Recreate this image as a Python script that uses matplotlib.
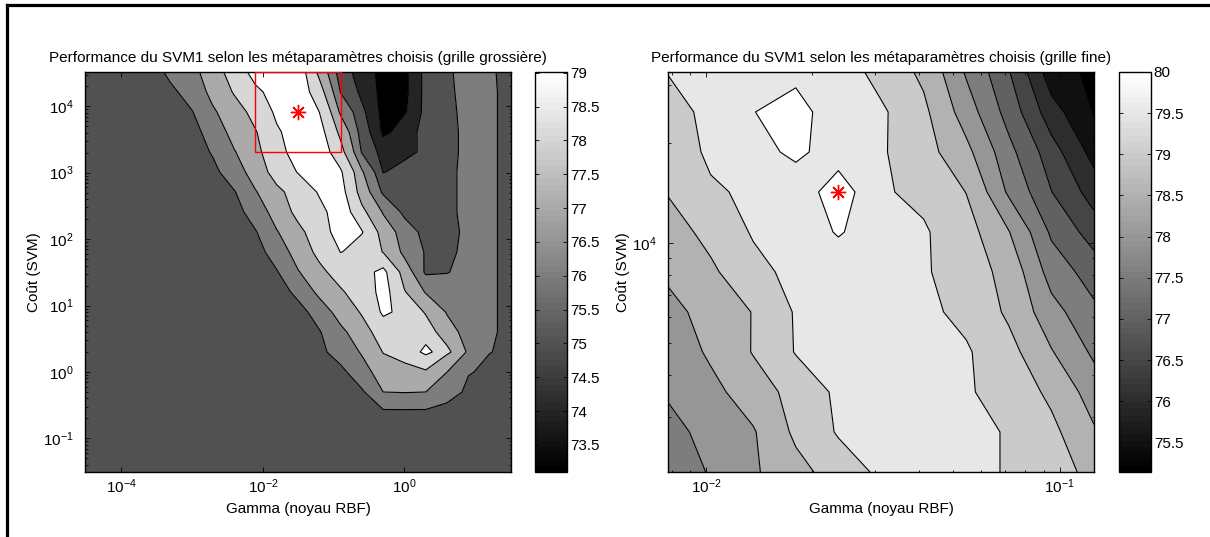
import numpy as np
import matplotlib
matplotlib.use("Agg")
import matplotlib.pyplot as plt
from matplotlib.colors import Normalize
from matplotlib.cm import ScalarMappable
from matplotlib.lines import Line2D
from matplotlib.patches import Rectangle
from matplotlib.ticker import (FixedLocator, LogLocator, NullLocator,
                               NullFormatter, LogFormatterSciNotation,
                               FormatStrFormatter)

plt.rcParams['font.family'] = ['Liberation Sans', 'DejaVu Sans']
plt.rcParams['mathtext.fontset'] = 'custom'
plt.rcParams['mathtext.rm'] = 'Liberation Sans'
plt.rcParams['axes.unicode_minus'] = False
plt.rcParams['font.size'] = 11

# coarse grid search (log2 of the meta-parameters)
log2_gamma_coarse = [-15, -14, -13, -12, -11, -10, -9, -8, -7, -6, -5,
                     -4, -3, -2, -1, 0, 1, 2, 3, 4, 5]
log2_cost_coarse = [-5, -4, -3, -2, -1, 0, 1, 2, 3, 4, 5,
                    6, 7, 8, 9, 10, 11, 12, 13, 14, 15]
# accuracy (%), one row per cost value (bottom -> top), one column per gamma
acc_coarse = [
    [75, 75, 75, 75, 75, 75, 75, 75, 75, 75, 75, 75, 75, 75, 75, 75, 75, 75, 75, 75, 75],
    [75, 75, 75, 75, 75, 75, 75, 75, 75, 75, 75, 75, 75, 75, 75, 75, 75, 75, 75, 75, 75],
    [75, 75, 75, 75, 75, 75, 75, 75, 75, 75, 75, 75, 75, 75, 75, 75, 75, 75, 75, 75, 75],
    [75, 75, 75, 75, 75, 75, 75, 75, 75, 75, 75, 75, 75, 75, 75.4, 75.4, 75.4, 75.2, 75, 75, 75],
    [75, 75, 75, 75, 75, 75, 75, 75, 75, 75, 75, 75, 75, 75.4, 76.5, 76.55, 76.5, 76.0, 75.2, 75, 75],
    [75, 75, 75, 75, 75, 75, 75, 75, 75, 75, 75, 75, 75.3, 76.2, 77.0, 77.2, 77.4, 76.5, 75.6, 75.1, 75],
    [75, 75, 75, 75, 75, 75, 75, 75, 75, 75, 75, 75.3, 76.0, 76.6, 77.55, 78.0, 78.75, 77.7, 76.3, 75.55, 75],
    [75, 75, 75, 75, 75, 75, 75, 75, 75, 75, 75, 75.45, 76.3, 77.2, 78.0, 78.1, 77.9, 76.9, 76.0, 75.7, 75],
    [75, 75, 75, 75, 75, 75, 75, 75, 75, 75, 75.2, 76.0, 77.0, 77.6, 78.7, 78.1, 77.4, 76.4, 76.0, 75.7, 75],
    [75, 75, 75, 75, 75, 75, 75, 75, 75, 75.1, 75.8, 76.8, 77.4, 78.1, 78.8, 77.55, 76.4, 76.0, 76.0, 75.7, 75],
    [75, 75, 75, 75, 75, 75, 75, 75, 75, 75.45, 76.45, 77.3, 78.0, 78.3, 78.7, 77.0, 75.3, 75.45, 76.0, 75.7, 75],
    [75, 75, 75, 75, 75, 75, 75, 75, 75.2, 76.0, 77.0, 77.8, 78.52, 78.2, 77.45, 76.2, 75.4, 75.2, 76.0, 75.7, 75],
    [75, 75, 75, 75, 75, 75, 75, 75, 75.45, 76.45, 77.3, 78.1, 79.0, 78.55, 77.0, 76.0, 75.1, 75.0, 76.0, 75.7, 75],
    [75, 75, 75, 75, 75, 75, 75, 75.2, 76.0, 77.0, 77.8, 78.3, 79.0, 77.7, 76.4, 75.2, 75.0, 75.2, 76.0, 75.7, 75],
    [75, 75, 75, 75, 75, 75, 75, 75.45, 76.45, 77.3, 78.0, 78.6, 78.8, 77.0, 75.3, 75.0, 75.0, 75.2, 76.0, 75.7, 75],
    [75, 75, 75, 75, 75, 75, 75.3, 76.1, 77.0, 78.0, 78.55, 79.0, 78.6, 76.6, 74.45, 75.0, 75.0, 75.2, 76.0, 75.7, 75],
    [75, 75, 75, 75, 75, 75.1, 75.6, 76.45, 77.3, 78.2, 79.0, 79.0, 77.8, 75.4, 74.0, 74.0, 75.0, 75.1, 76.0, 75.7, 75],
    [75, 75, 75, 75, 75, 75.2, 76.0, 76.9, 77.45, 78.4, 79.0, 78.8, 77.2, 75.0, 73.3, 74.0, 75.0, 75.1, 76.0, 75.7, 75],
    [75, 75, 75, 75, 75, 75.45, 76.4, 77.1, 77.9, 78.7, 79.0, 78.5, 76.3, 74.7, 73.1, 73.4, 74.9, 75.2, 76.0, 75.7, 75],
    [75, 75, 75, 75, 75.3, 76.0, 76.8, 77.6, 78.3, 79.0, 79.0, 77.9, 75.45, 74.2, 73.1, 73.3, 74.9, 75.3, 76.0, 75.7, 75],
    [75, 75, 75, 75, 75.8, 76.2, 77.2, 77.9, 79.0, 79.0, 79.0, 77.2, 74.9, 74.0, 73.1, 73.3, 74.9, 75.36, 76.0, 75.65, 75],
]
best_coarse = (-5, 13)          # log2 gamma, log2 cost
zoom_box = (-7, -3, 11, 15)     # region refined in the fine grid
coarse_levels = [73.0, 73.5, 74.5, 75.5, 76.5, 77.5, 78.5, 79.1]
coarse_band_vals = [73.1, 74, 75, 76, 77, 78, 79.01]
coarse_range = (73.1, 79.01)
coarse_cticks = [73.5, 74, 74.5, 75, 75.5, 76, 76.5, 77, 77.5, 78, 78.5, 79]

# fine grid search
log2_gamma_fine = [-7, -6.6, -6.2, -5.8, -5.4, -5, -4.6, -4.2, -3.8, -3.4, -3]
log2_cost_fine = [11, 11.4, 11.8, 12.2, 12.6, 13, 13.4, 13.8, 14.2, 14.6, 15]
acc_fine = [
    [77.55, 77.78, 78.19, 78.59, 79.0, 79.35, 79.4, 79.35, 79.22, 78.95, 78.6],
    [77.6, 77.92, 78.21, 78.86, 79.3, 79.4, 79.4, 79.35, 79.22, 78.86, 78.3],
    [77.81, 78.12, 78.51, 78.94, 79.35, 79.4, 79.35, 79.3, 79.04, 78.64, 78.0],
    [77.95, 78.33, 78.78, 79.28, 79.4, 79.4, 79.35, 79.3, 78.9, 78.28, 77.65],
    [78.1, 78.45, 78.77, 79.3, 79.45, 79.4, 79.35, 79.12, 78.66, 77.92, 77.35],
    [78.35, 78.67, 79.11, 79.4, 79.45, 79.4, 79.3, 79.0, 78.57, 77.53, 77.0],
    [78.55, 78.9, 79.3, 79.45, 79.8, 79.4, 79.3, 78.93, 78.27, 77.16, 76.5],
    [78.78, 79.15, 79.4, 79.5, 80.0, 79.3, 79.13, 78.74, 77.66, 76.76, 76.0],
    [78.8, 79.4, 79.6, 79.85, 79.5, 79.3, 78.93, 78.38, 77.39, 76.45, 75.55],
    [79.05, 79.4, 79.74, 79.95, 79.4, 79.32, 78.85, 77.99, 77.04, 75.94, 75.22],
    [79.27, 79.45, 79.55, 79.6, 79.5, 79.07, 78.64, 77.69, 76.78, 75.44, 75.14],
]
best_fine = (-5.4, 13.8)
fine_levels = [75.0, 75.25, 75.75, 76.25, 76.75, 77.25, 77.75, 78.25,
               78.75, 79.25, 79.75, 80.1]
fine_band_vals = [75.14, 75.5, 76, 76.5, 77, 77.5, 78, 78.5, 79, 79.5, 80.0]
fine_range = (75.14, 80.0)
fine_cticks = [75.5, 76, 76.5, 77, 77.5, 78, 78.5, 79, 79.5, 80]

title_coarse = "Performance du SVM1 selon les métaparamètres choisis (grille grossière)"
title_fine = "Performance du SVM1 selon les métaparamètres choisis (grille fine)"

W, H = 1210, 537
fig = plt.figure(figsize=(W / 100, H / 100), dpi=100)


def px_axes(x0, y0, x1, y1):
    return fig.add_axes([x0 / W, 1 - y1 / H, (x1 - x0) / W, (y1 - y0) / H])


def panel(ax, cax, lg, lc, z, levels, band_vals, crange, cticks, star):
    g = 2.0 ** np.array(lg)
    c = 2.0 ** np.array(lc)
    G, C = np.meshgrid(g, c)
    Z = np.array(z)
    norm = Normalize(*crange)
    cmap = plt.get_cmap('gray', 64)
    colors = [cmap(norm(v)) for v in band_vals]
    ax.contourf(G, C, Z, levels=levels, colors=colors)
    ax.contour(G, C, Z, levels=levels[1:-1], colors='k', linewidths=0.8)
    ax.set_xscale('log')
    ax.set_yscale('log')
    ax.set_xlim(g[0], g[-1])
    ax.set_ylim(c[0], c[-1])
    ax.plot(2.0 ** star[0], 2.0 ** star[1], ls='none', marker=(8, 2, 0),
            ms=11, mew=1.0, color='red', zorder=5)
    ax.tick_params(which='both', direction='in', top=True, right=True,
                   width=0.6, labelsize=11)
    ax.tick_params(which='major', length=3.5)
    ax.tick_params(which='minor', length=1.8)
    ax.tick_params(axis='y', pad=8)
    ax.tick_params(axis='x', pad=4)
    for s in ax.spines.values():
        s.set_linewidth(1.0)
    ax.set_xlabel("Gamma (noyau RBF)", fontsize=11)
    ax.set_ylabel("Coût (SVM)", fontsize=11)

    sm = ScalarMappable(norm=norm, cmap=cmap)
    cb = fig.colorbar(sm, cax=cax)
    cb.set_ticks(cticks)
    cb.ax.yaxis.set_major_formatter(FormatStrFormatter('%g'))
    cb.ax.tick_params(direction='in', left=True, right=True, length=3,
                      width=0.6, labelsize=11, pad=2)
    cb.outline.set_linewidth(1.0)


ax1 = px_axes(85, 72, 511, 472)
cax1 = px_axes(535, 72, 567, 472)
panel(ax1, cax1, log2_gamma_coarse, log2_cost_coarse, acc_coarse,
      coarse_levels, coarse_band_vals, coarse_range, coarse_cticks, best_coarse)
ax1.xaxis.set_major_locator(FixedLocator([1e-4, 1e-2, 1e0]))
ax1.xaxis.set_minor_locator(NullLocator())
ax1.xaxis.set_major_formatter(LogFormatterSciNotation())
ax1.yaxis.set_major_locator(LogLocator(base=10, numticks=30))
ax1.yaxis.set_minor_locator(LogLocator(base=10, subs=range(2, 10), numticks=60))
ax1.yaxis.set_minor_formatter(NullFormatter())
gx0, gx1, cy0, cy1 = [2.0 ** v for v in zoom_box]
ax1.add_patch(Rectangle((gx0, cy0), gx1 - gx0, cy1 - cy0, fill=False,
                        ec='red', lw=1.0, zorder=4))
ax1.set_title(title_coarse, fontsize=11, pad=7)
ax1.xaxis.set_label_coords(0.5, -0.075)
ax1.yaxis.set_label_coords(-0.103, 0.5)

ax2 = px_axes(668, 72, 1094, 472)
cax2 = px_axes(1119, 72, 1151, 472)
panel(ax2, cax2, log2_gamma_fine, log2_cost_fine, acc_fine,
      fine_levels, fine_band_vals, fine_range, fine_cticks, best_fine)
ax2.xaxis.set_major_locator(FixedLocator([1e-2, 1e-1]))
ax2.xaxis.set_minor_locator(LogLocator(base=10, subs=range(2, 10), numticks=60))
ax2.xaxis.set_major_formatter(LogFormatterSciNotation())
ax2.xaxis.set_minor_formatter(NullFormatter())
ax2.yaxis.set_major_locator(FixedLocator([1e4]))
ax2.yaxis.set_major_formatter(LogFormatterSciNotation())
ax2.yaxis.set_minor_locator(LogLocator(base=10, subs=range(2, 10), numticks=60))
ax2.yaxis.set_minor_formatter(NullFormatter())
ax2.set_title(title_fine, fontsize=11, pad=7)
ax2.xaxis.set_label_coords(0.5, -0.075)
ax2.yaxis.set_label_coords(-0.089, 0.5)

# frame around the figure (top and left edges are visible)
fig.add_artist(Line2D([7 / W, 7 / W], [0, 1 - 4.5 / H], transform=fig.transFigure,
                      color='k', lw=2.3))
fig.add_artist(Line2D([7 / W, 1], [1 - 4.5 / H, 1 - 4.5 / H], transform=fig.transFigure,
                      color='k', lw=2.3))

fig.savefig("out.png", dpi=100)
